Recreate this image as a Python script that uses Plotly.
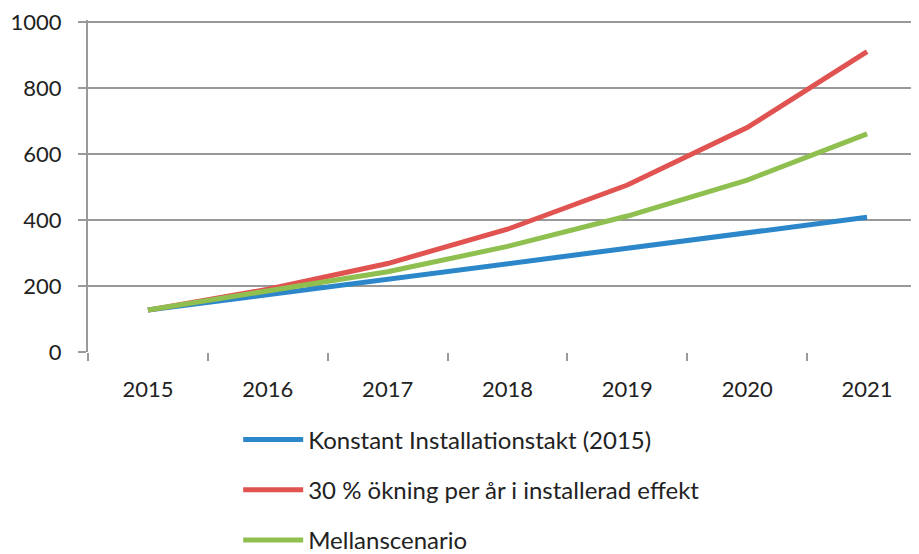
import plotly.graph_objects as go

years = ["2015", "2016", "2017", "2018", "2019", "2020", "2021"]
konstant = [127, 174, 220, 268, 314, 362, 408]
okning30 = [127, 190, 268, 372, 506, 680, 910]
mellan = [127, 184, 243, 320, 412, 521, 661]
yticks = [0, 200, 400, 600, 800, 1000]

names = ["Konstant Installationstakt (2015)",
         "30 % ökning per år i installerad effekt",
         "Mellanscenario"]
colors = ["#2b87c9", "#e05350", "#8fbf4f"]
series = [konstant, okning30, mellan]

fig = go.Figure()
for i, (n, c, s) in enumerate(zip(names, colors, series)):
    fig.add_trace(go.Scatter(x=years, y=s, name=n, mode="lines",
                             line=dict(color=c, width=5),
                             legendgroup=f"g{i}"))

tickfont = dict(family="Lato, 'Open Sans', sans-serif", size=22, color="#222")
legfont = dict(family="Lato, 'Open Sans', sans-serif", size=24, color="#222")
fig.update_layout(
    width=919, height=554,
    margin=dict(l=80, r=0, t=12, b=210, autoexpand=False),
    paper_bgcolor="white", plot_bgcolor="white",
    font=tickfont,
    showlegend=True,
    legend=dict(orientation="v", x=0.179, xanchor="left", y=-0.197, yanchor="top",
                itemwidth=60, tracegroupgap=16, font=legfont,
                bgcolor="rgba(0,0,0,0)"),
    xaxis=dict(type="category", range=[-0.5, 6.5], tickson="boundaries",
               ticks="outside", ticklen=8,
               tickcolor="#999", tickwidth=2, showline=False, showgrid=False,
               zeroline=False, ticklabelstandoff=22),
    yaxis=dict(range=[0, 1006], tickmode="array", tickvals=yticks,
               showgrid=True, gridcolor="#999",
               gridwidth=2, showline=True, linecolor="#999", linewidth=2,
               ticks="outside", ticklen=8, tickcolor="#999", tickwidth=2,
               zeroline=False, ticklabelstandoff=12, ticklabeloverflow="allow"),
)
fig.write_html("out.html")
